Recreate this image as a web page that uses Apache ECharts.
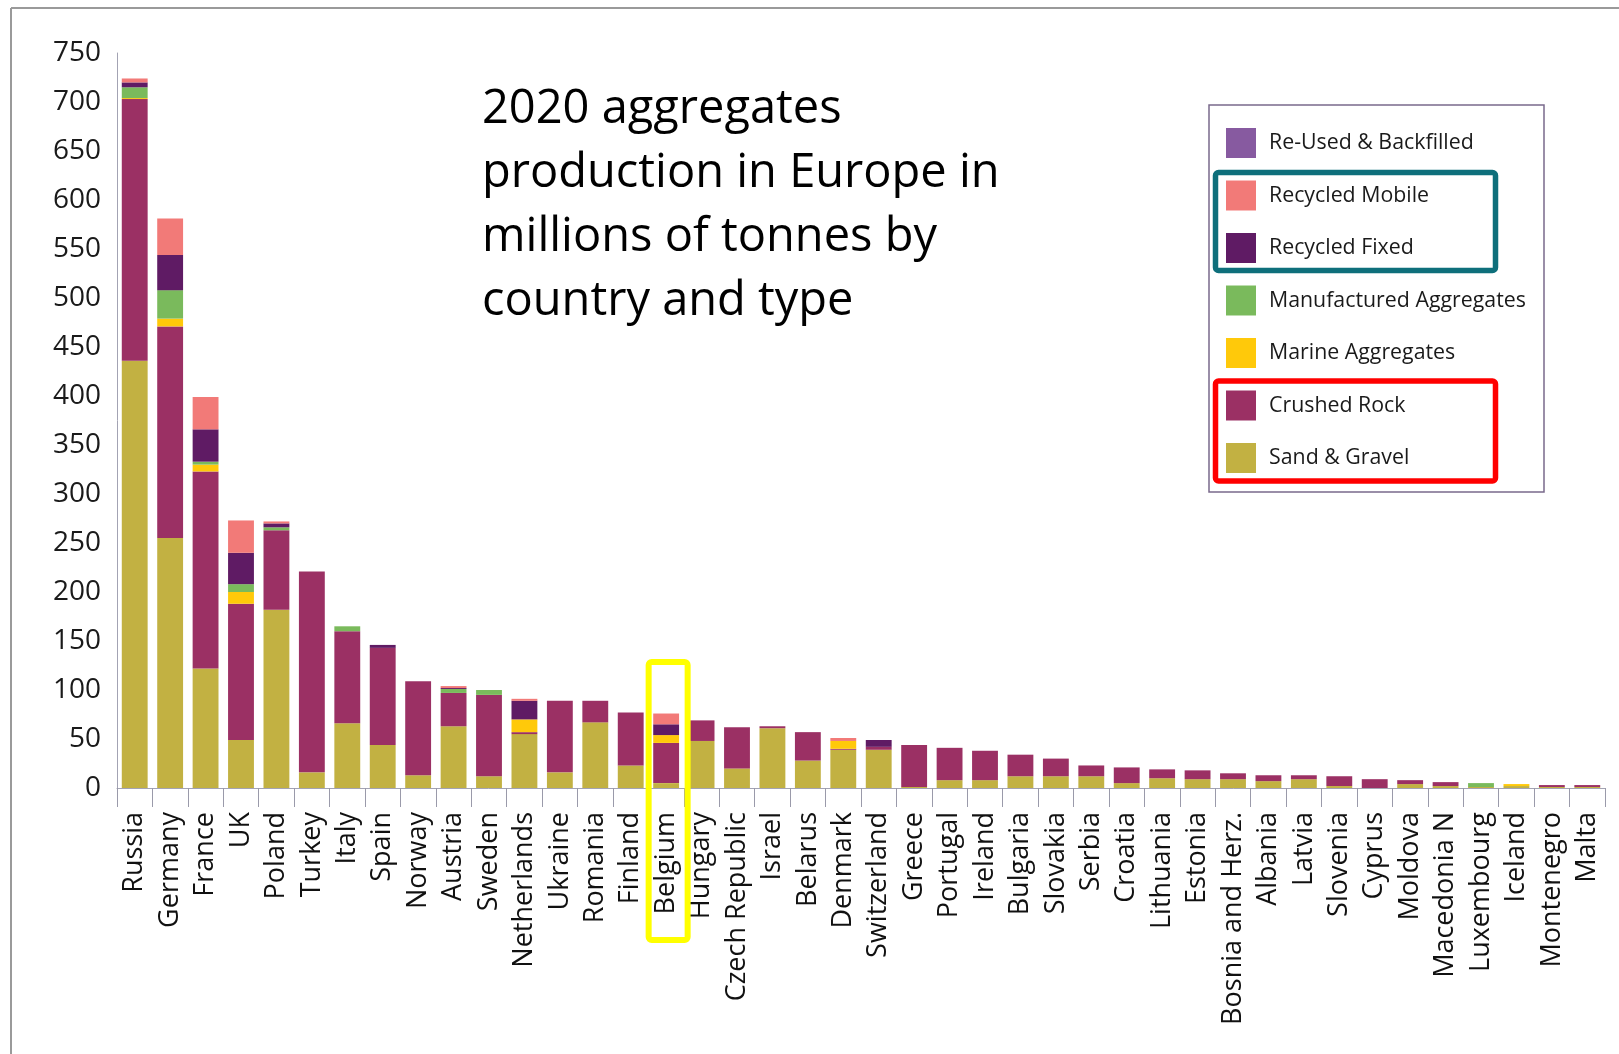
<!DOCTYPE html>
<html>
<head>
<meta charset="utf-8">
<script src="https://cdn.jsdelivr.net/npm/echarts@6/dist/echarts.min.js"></script>
<style>
html,body{margin:0;padding:0;background:#fff;}
#c{width:1619px;height:1054px;}
</style>
</head>
<body>
<div id="c"></div>
<script>
const countries = ["Russia","Germany","France","UK","Poland","Turkey","Italy","Spain","Norway","Austria","Sweden","Netherlands","Ukraine","Romania","Finland","Belgium","Hungary","Czech Republic","Israel","Belarus","Denmark","Switzerland","Greece","Portugal","Ireland","Bulgaria","Slovakia","Serbia","Croatia","Lithuania","Estonia","Bosnia and Herz.","Albania","Latvia","Slovenia","Cyprus","Moldova","Macedonia N","Luxembourg","Iceland","Montenegro","Malta"];

const sandGravel   = [436,255,122,49,182,16,66,44,13,63,12,55,16,67,23,5,48,20,61,28,39,39,1,8,8,12,12,12,5,10,9,9,7,9,2,0,4,2,1,2,1,1];
const crushedRock  = [267,216,201,139,81,205,94,99,96,34,83,2,73,22,54,41,21,42,2,29,1,3,43,33,30,22,18,11,16,9,9,6,6,4,10,9,4,4,0,0,2,2];
const marine       = [1,8,7,12,0,0,0,0,0,0,0,13,0,0,0,8,0,0,0,0,8,0,0,0,0,0,0,0,0,0,0,0,0,0,0,0,0,0,0,2,0,0];
const manufactured = [11,29,3,8,3,0,5,0,0,4,5,0,0,0,0,0,0,0,0,0,0,0,0,0,0,0,0,0,0,0,0,0,0,0,0,0,0,0,4,0,0,0];
const recycledFixed  = [5,36,33,32,4,0,0,3,0,1,0,19,0,0,0,11,0,0,0,0,0,7,0,0,0,0,0,0,0,0,0,0,0,0,0,0,0,0,0,0,0,0];
const recycledMobile = [4,37,33,33,2,0,0,0,0,2,0,2,0,0,0,11,0,0,0,0,3,0,0,0,0,0,0,0,0,0,0,0,0,0,0,0,0,0,0,0,0,0];
const reUsed         = [0,0,0,0,0,0,0,0,0,0,0,0,0,0,0,0,0,0,0,0,0,0,0,0,0,0,0,0,0,0,0,0,0,0,0,0,0,0,0,0,0,0];

const yTicks = {min:0, max:750, interval:50};
const titleText = "2020 aggregates\nproduction in Europe in\nmillions of tonnes by\ncountry and type";

const seriesDefs = [
  {name:"Sand & Gravel", data:sandGravel, color:"#c2b142"},
  {name:"Crushed Rock", data:crushedRock, color:"#9b3064"},
  {name:"Marine Aggregates", data:marine, color:"#ffc90a"},
  {name:"Manufactured Aggregates", data:manufactured, color:"#7aba5c"},
  {name:"Recycled Fixed", data:recycledFixed, color:"#5f1b64"},
  {name:"Recycled Mobile", data:recycledMobile, color:"#f27a78"},
  {name:"Re-Used & Backfilled", data:reUsed, color:"#875aa0"}
];
const legendOrder = ["Re-Used & Backfilled","Recycled Mobile","Recycled Fixed","Manufactured Aggregates","Marine Aggregates","Crushed Rock","Sand & Gravel"];

const cv = document.createElement('canvas').getContext('2d');
function w(font){cv.font=font;return cv.measureText("Manufactured Aggregates").width;}
let legendFamily = "Open Sans";
if (w('100px "Liberation Sans Narrow", monospace') !== w('100px monospace')) legendFamily = '"Liberation Sans Narrow"';
let legendSize = Math.min(25, 100*257/w('100px '+legendFamily));

const chart = echarts.init(document.getElementById('c'), null, {renderer:'canvas'});
const option = {
  animation:false,
  backgroundColor:'#fff',
  grid:{left:117,right:14,top:53,bottom:266,containLabel:false},
  legend:{
    data:legendOrder,
    orient:'vertical',
    left:1226, top:128,
    padding:0,
    itemWidth:30, itemHeight:30, itemGap:22.5,
    icon:'rect',
    textStyle:{fontFamily:legendFamily, fontSize:legendSize, color:'#1a1a1a', padding:[0,0,0,8]},
    selectedMode:false
  },
  xAxis:{
    type:'category',
    data:countries,
    axisLine:{show:true,lineStyle:{color:'#a3a3b3',width:1}},
    axisTick:{show:true,length:19,lineStyle:{color:'#9a9aaa',width:1}},
    axisLabel:{rotate:90,interval:0,margin:24,fontFamily:'Open Sans',fontSize:27,color:'#111'}
  },
  yAxis:{
    type:'value',
    min:yTicks.min,max:yTicks.max,interval:yTicks.interval,
    axisLine:{show:true,lineStyle:{color:'#a3a3b3',width:1}},
    axisTick:{show:false},
    splitLine:{show:false},
    axisLabel:{margin:16,fontFamily:'Open Sans',fontSize:28,color:'#1a1a1a'}
  },
  series: seriesDefs.map(s=>({
    name:s.name, type:'bar', stack:'total', data:s.data,
    barWidth:'73%',
    itemStyle:{color:s.color},
    emphasis:{disabled:true}
  })),
  graphic:[
    {id:'frameTop',type:'line',shape:{x1:11,y1:8,x2:1619,y2:8},style:{stroke:'#9a9a9a',lineWidth:2},silent:true},
    {id:'frameLeft',type:'line',shape:{x1:11,y1:8,x2:11,y2:1054},style:{stroke:'#9a9a9a',lineWidth:2},silent:true},
    {id:'title',type:'text',left:482,top:78,style:{text:titleText,fontFamily:'Open Sans',fontSize:47,lineHeight:64,fill:'#000'},silent:true},
    {id:'legendBox',type:'rect',shape:{x:1209,y:105,width:335,height:387},style:{fill:'none',stroke:'#7a6a8c',lineWidth:1.5},silent:true},
    {id:'tealBox',type:'rect',shape:{x:1215.5,y:172.5,width:280,height:98,r:3},style:{fill:'none',stroke:'#0e6f7b',lineWidth:5.5},silent:true,z:10},
    {id:'redBox',type:'rect',shape:{x:1215.5,y:381,width:280,height:100,r:3},style:{fill:'none',stroke:'#ff0000',lineWidth:5.5},silent:true,z:10}
  ]
};
chart.setOption(option);
const bx = chart.convertToPixel({xAxisIndex:0}, 'Belgium');
const by0 = chart.convertToPixel({yAxisIndex:0}, 0);
chart.setOption({graphic:[
  {id:'belgiumBox',type:'rect',shape:{x:bx-17.5,y:by0-126,width:39,height:278,r:3},style:{fill:'none',stroke:'#ffff00',lineWidth:6},silent:true,z:10}
]});
</script>
</body>
</html>
